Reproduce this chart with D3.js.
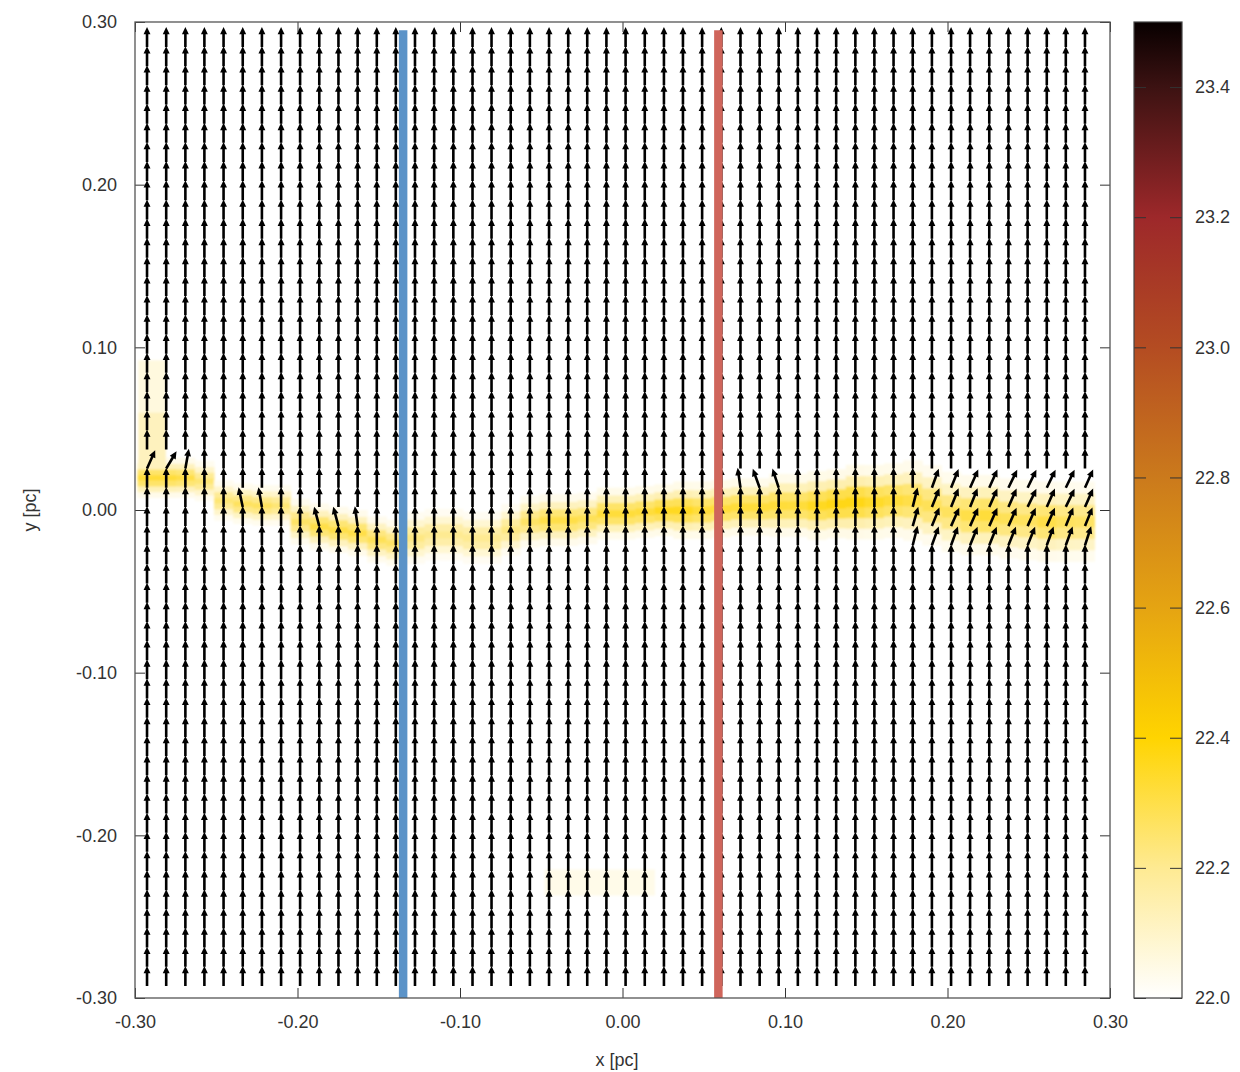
<!DOCTYPE html>
<html>
<head>
<meta charset="utf-8">
<script src="https://cdn.jsdelivr.net/npm/d3@7"></script>
<style>
  body { margin: 0; background: #fff; }
  svg text { font-family: "Liberation Sans", Arial, sans-serif; fill: #333; }
</style>
</head>
<body>
<div id="chart"></div>
<script>
// grid positions of the field samples (pc), same for x and y
var gridPos = [-0.2926, -0.2808, -0.2690, -0.2573, -0.2455, -0.2337, -0.2219, -0.2101, -0.1984, -0.1866,
  -0.1748, -0.1630, -0.1512, -0.1395, -0.1277, -0.1159, -0.1041, -0.0923, -0.0806, -0.0688,
  -0.0570, -0.0452, -0.0334, -0.0217, -0.0099, 0.0019, 0.0137, 0.0255, 0.0372, 0.0490,
  0.0608, 0.0726, 0.0844, 0.0961, 0.1079, 0.1197, 0.1315, 0.1433, 0.1550, 0.1668,
  0.1786, 0.1904, 0.2022, 0.2139, 0.2257, 0.2375, 0.2493, 0.2611, 0.2728, 0.2846];

// field vectors that lean away from vertical: [column, row from top, angle in degrees]
var tilted = [
  [0, 22, 24], [1, 22, 31], [2, 22, 10],
  [5, 24, -12], [6, 24, -10],
  [9, 25, -15], [10, 25, -15], [11, 25, -8],
  [31, 23, -8], [32, 23, -20], [33, 23, -18],
  [40, 24, 14], [40, 25, 16], [40, 26, 14],
  [41, 23, 20], [41, 24, 22], [41, 25, 22], [41, 26, 20],
  [42, 23, 22], [42, 24, 22], [42, 25, 24], [42, 26, 20],
  [43, 23, 24], [43, 24, 22], [43, 25, 24], [43, 26, 22],
  [44, 23, 24], [44, 24, 24], [44, 25, 24], [44, 26, 22],
  [45, 23, 26], [45, 24, 24], [45, 25, 24], [45, 26, 22],
  [46, 23, 26], [46, 24, 26], [46, 25, 24], [46, 26, 22],
  [47, 23, 26], [47, 24, 24], [47, 25, 24], [47, 26, 20],
  [48, 23, 26], [48, 24, 26], [48, 25, 22], [48, 26, 20],
  [49, 23, 24], [49, 24, 24], [49, 25, 22], [49, 26, 18]
];

// filament ridge per column: centre y (pc), peak log column density, step height (pc)
var bandY = [0.020, 0.020, 0.020, 0.018, 0.006, 0.004, 0.003, 0.003, -0.007, -0.010,
  -0.012, -0.014, -0.018, -0.020, -0.017, -0.015, -0.015, -0.017, -0.017, -0.012,
  -0.007, -0.006, -0.006, -0.005, -0.002, -0.002, -0.001, 0.000, 0.000, 0.000,
  0.001, 0.002, 0.002, 0.003, 0.003, 0.003, 0.004, 0.005, 0.005, 0.006,
  0.006, 0.003, -0.001, -0.003, -0.003, -0.005, -0.006, -0.007, -0.007, -0.007];
var bandPeak = [22.32, 22.32, 22.30, 22.24, 22.24, 22.27, 22.27, 22.24, 22.26, 22.30,
  22.30, 22.30, 22.28, 22.26, 22.22, 22.20, 22.20, 22.20, 22.20, 22.22,
  22.26, 22.30, 22.30, 22.28, 22.32, 22.32, 22.32, 22.35, 22.35, 22.32,
  22.32, 22.32, 22.32, 22.32, 22.32, 22.35, 22.37, 22.37, 22.34, 22.32,
  22.30, 22.28, 22.27, 22.30, 22.32, 22.28, 22.27, 22.30, 22.27, 22.26];
var bandStep = [0.0035, 0.0035, 0.0035, 0.0035, 0.0035, 0.0035, 0.0035, 0.0035, 0.004, 0.004,
  0.004, 0.004, 0.004, 0.004, 0.0045, 0.0045, 0.0045, 0.0045, 0.0045, 0.0045,
  0.0045, 0.0045, 0.0045, 0.0045, 0.0045, 0.0045, 0.0045, 0.0045, 0.005, 0.005,
  0.005, 0.005, 0.005, 0.0055, 0.0055, 0.006, 0.006, 0.0065, 0.0065, 0.0065,
  0.007, 0.007, 0.007, 0.007, 0.007, 0.007, 0.007, 0.007, 0.007, 0.007];
// cross profile of the ridge (fraction of peak above 22.0)
var bandProfile = [0.12, 0.4, 0.8, 1, 0.8, 0.4, 0.12];
// faint patches: [x0, x1, y0, y1, value]
var patches = [
  [-0.298, -0.281, 0.060, 0.092, 22.06],
  [-0.298, -0.281, 0.025, 0.060, 22.12],
  [-0.048, 0.020, -0.237, -0.221, 22.04]
];

// cut positions (pc)
var cuts = [{ x: -0.135, color: "#5b93c8" }, { x: 0.059, color: "#cf655b" }];

var axisTicks = [-0.30, -0.20, -0.10, 0.00, 0.10, 0.20, 0.30];
var cbTicks = [22.0, 22.2, 22.4, 22.6, 22.8, 23.0, 23.2, 23.4];
var cbStops = [22.0, 22.2, 22.4, 22.6, 22.8, 23.0, 23.2, 23.4, 23.5];
var cbColors = ["#ffffff", "#feea92", "#ffd400", "#e5a412", "#cb7a1c", "#b44c22", "#9d282a", "#3c1212", "#080000"];

var width = 1240, height = 1072;
var svg = d3.select("#chart").append("svg")
  .attr("width", width)
  .attr("height", height);

var x = d3.scaleLinear().domain([-0.3, 0.3]).range([135, 1110]);
var y = d3.scaleLinear().domain([-0.3, 0.3]).range([998, 22]);
var color = d3.scaleLinear().domain(cbStops).range(cbColors).clamp(true);

var defs = svg.append("defs");
defs.append("filter").attr("id", "soft")
  .attr("x", "-5%").attr("y", "-20%").attr("width", "110%").attr("height", "140%")
  .append("feGaussianBlur").attr("stdDeviation", 1.3);
defs.append("filter").attr("id", "shade")
  .attr("x", "-200%").attr("y", "-5%").attr("width", "500%").attr("height", "110%")
  .append("feGaussianBlur").attr("stdDeviation", 2.5);
defs.append("clipPath").attr("id", "plotClip")
  .append("rect").attr("x", 135).attr("y", 22).attr("width", 975).attr("height", 976);

// heat map
var colW = x(gridPos[1]) - x(gridPos[0]);
var heat = svg.append("g").attr("clip-path", "url(#plotClip)")
  .append("g").attr("filter", "url(#soft)");

var cells = [];
gridPos.forEach(function(gx, i) {
  bandProfile.forEach(function(f, k) {
    var off = (k - 3) * bandStep[i];
    cells.push({
      x: gx,
      y0: bandY[i] + off - bandStep[i] / 2,
      y1: bandY[i] + off + bandStep[i] / 2,
      v: 22 + (bandPeak[i] - 22) * f
    });
  });
});

heat.selectAll(".cell").data(cells).enter()
  .append("rect")
  .attr("class", "cell")
  .attr("x", d => x(d.x) - colW / 2)
  .attr("width", colW + 0.5)
  .attr("y", d => y(d.y1))
  .attr("height", d => y(d.y0) - y(d.y1) + 0.5)
  .attr("fill", d => color(d.v));

heat.selectAll(".patch").data(patches).enter()
  .append("rect")
  .attr("class", "patch")
  .attr("x", d => x(d[0]))
  .attr("width", d => x(d[1]) - x(d[0]))
  .attr("y", d => y(d[3]))
  .attr("height", d => y(d[2]) - y(d[3]))
  .attr("fill", d => color(d[4]));

// field vectors
var angleAt = {};
tilted.forEach(function(t) { angleAt[t[0] + "_" + t[1]] = t[2]; });

var vecs = [];
gridPos.forEach(function(gx, i) {
  gridPos.forEach(function(gy, j) {
    vecs.push({ x: gx, y: gridPos[gridPos.length - 1 - j], a: angleAt[i + "_" + j] || 0 });
  });
});

var vecLen = 17, headLen = 3, headW = 1.4;
var vg = svg.append("g");
vg.selectAll(".vec").data(vecs).enter()
  .append("path")
  .attr("class", "vec")
  .attr("d", function(d) {
    var r = d.a * Math.PI / 180;
    var ux = Math.sin(r), uy = -Math.cos(r);
    var x0 = x(d.x), y0 = y(d.y);
    var x1 = x0 + ux * vecLen, y1 = y0 + uy * vecLen;
    var bx = x1 - ux * headLen, by = y1 - uy * headLen;
    return "M" + x0 + "," + y0 + "L" + bx + "," + by +
      "M" + x1 + "," + y1 +
      "L" + (bx - uy * headW) + "," + (by + ux * headW) +
      "L" + (bx + uy * headW) + "," + (by - ux * headW) + "Z";
  })
  .attr("stroke", "#000")
  .attr("stroke-width", 2.6)
  .attr("stroke-linejoin", "miter")
  .attr("fill", "#000");

// cut lines
var cg = svg.append("g");
cg.selectAll(".cutShade").data(cuts).enter()
  .append("line")
  .attr("x1", d => x(d.x)).attr("x2", d => x(d.x))
  .attr("y1", y(0.295)).attr("y2", y(-0.3))
  .attr("stroke", "#000").attr("stroke-opacity", 0.25)
  .attr("stroke-width", 10)
  .attr("filter", "url(#shade)");
cg.selectAll(".cut").data(cuts).enter()
  .append("line")
  .attr("x1", d => x(d.x)).attr("x2", d => x(d.x))
  .attr("y1", y(0.295)).attr("y2", y(-0.3))
  .attr("stroke", d => d.color)
  .attr("stroke-width", 8.5);

// axes
var fmt = d => d.toFixed(2);
function styleAxis(g) {
  g.select(".domain").remove();
  g.selectAll(".tick line").attr("stroke", "#333").attr("stroke-width", 1);
  g.selectAll(".tick text").attr("font-size", 18).attr("fill", "#333");
}
svg.append("g").attr("transform", "translate(0,998)")
  .call(d3.axisBottom(x).tickValues(axisTicks).tickFormat(fmt).tickSizeInner(-10).tickSizeOuter(0).tickPadding(17))
  .call(styleAxis);
svg.append("g").attr("transform", "translate(0,22)")
  .call(d3.axisTop(x).tickValues(axisTicks).tickFormat("").tickSizeInner(-10).tickSizeOuter(0))
  .call(styleAxis);
svg.append("g").attr("transform", "translate(135,0)")
  .call(d3.axisLeft(y).tickValues(axisTicks).tickFormat(fmt).tickSizeInner(-10).tickSizeOuter(0).tickPadding(18))
  .call(styleAxis);
svg.append("g").attr("transform", "translate(1110,0)")
  .call(d3.axisRight(y).tickValues(axisTicks).tickFormat("").tickSizeInner(-10).tickSizeOuter(0))
  .call(styleAxis);

svg.append("rect")
  .attr("x", 135).attr("y", 22).attr("width", 975).attr("height", 976)
  .attr("fill", "none").attr("stroke", "#555").attr("stroke-width", 1.3);

svg.append("text")
  .attr("x", 617).attr("y", 1066)
  .attr("text-anchor", "middle").attr("font-size", 18)
  .text("x [pc]");
svg.append("text")
  .attr("transform", "translate(36,510) rotate(-90)")
  .attr("text-anchor", "middle").attr("font-size", 18)
  .text("y [pc]");

// colour bar
var cb = d3.scaleLinear().domain([22.0, 23.5]).range([998, 22]);
var grad = defs.append("linearGradient").attr("id", "cbGrad")
  .attr("x1", 0).attr("y1", 1).attr("x2", 0).attr("y2", 0);
grad.selectAll("stop").data(cbStops).enter()
  .append("stop")
  .attr("offset", d => (d - 22) / 1.5)
  .attr("stop-color", d => color(d));

svg.append("rect")
  .attr("x", 1134).attr("y", 22).attr("width", 48).attr("height", 976)
  .attr("fill", "url(#cbGrad)");

svg.append("g").attr("transform", "translate(1182,0)")
  .call(d3.axisRight(cb).tickValues(cbTicks).tickFormat(d => d.toFixed(1)).tickSizeInner(-12).tickSizeOuter(0).tickPadding(13))
  .call(styleAxis);
svg.append("g").attr("transform", "translate(1134,0)")
  .call(d3.axisLeft(cb).tickValues(cbTicks).tickFormat("").tickSizeInner(-12).tickSizeOuter(0))
  .call(styleAxis);

svg.append("rect")
  .attr("x", 1134).attr("y", 22).attr("width", 48).attr("height", 976)
  .attr("fill", "none").attr("stroke", "#444").attr("stroke-width", 1.2);
</script>
</body>
</html>
